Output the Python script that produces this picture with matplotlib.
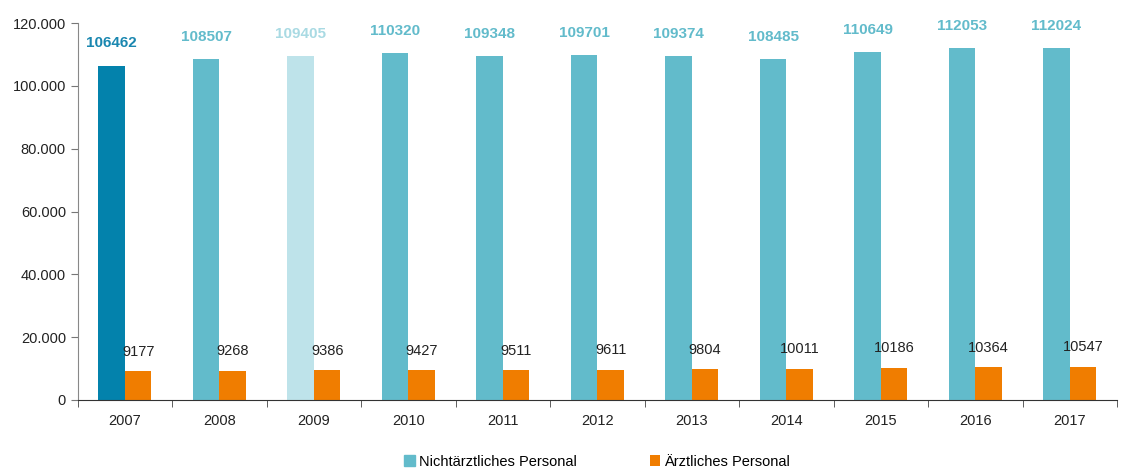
import matplotlib
matplotlib.use('Agg')
import matplotlib.pyplot as plt
from matplotlib.ticker import FuncFormatter
import numpy as np

years = ["2007", "2008", "2009", "2010", "2011", "2012", "2013", "2014", "2015", "2016", "2017"]
nicht_aerztlich = [106462, 108507, 109405, 110320, 109348, 109701, 109374, 108485, 110649, 112053, 112024]
aerztlich = [9177, 9268, 9386, 9427, 9511, 9611, 9804, 10011, 10186, 10364, 10547]

teal = "#62BBCB"
dark_blue = "#0382AC"
light_teal = "#BEE3EA"
orange = "#F07D00"
label_blue = ["#1A87B0", teal, "#A9DAE3"] + [teal] * 8
bar_blue = [dark_blue, teal, light_teal] + [teal] * 8

plt.rcParams['font.family'] = ['Liberation Sans', 'DejaVu Sans']

fig = plt.figure(figsize=(11.26, 4.70), dpi=100)
ax = fig.add_axes([0.069, 0.149, 0.923, 0.802])

x = np.arange(len(years))
w = 0.28
ax.bar(x - w / 2, nicht_aerztlich, w, color=bar_blue, edgecolor='none', label="Nichtärztliches Personal")
ax.bar(x + w / 2, aerztlich, w, color=orange, edgecolor='none', label="Ärztliches Personal")

for i in range(len(years)):
    ax.annotate(str(nicht_aerztlich[i]), (x[i] - w / 2, nicht_aerztlich[i]), xytext=(0, 11),
                textcoords='offset points', ha='center', va='bottom', fontsize=11,
                fontweight='bold', color=label_blue[i])
    ax.annotate(str(aerztlich[i]), (x[i] + w / 2, aerztlich[i]), xytext=(0, 9),
                textcoords='offset points', ha='center', va='bottom', fontsize=10.5, color='#222222')

ax.set_xlim(-0.5, len(years) - 0.5)
ax.set_ylim(0, 120000)
ax.set_yticks(np.arange(0, 120001, 20000))
ax.yaxis.set_major_formatter(FuncFormatter(lambda v, p: f"{int(v):,}".replace(",", ".")))
ax.set_xticks(x)
ax.set_xticklabels(years)
ax.set_xticks(np.arange(-0.5, len(years)), minor=True)
ax.tick_params(axis='x', which='major', length=0, pad=10, labelsize=10.5, colors='#222222')
ax.tick_params(axis='x', which='minor', length=5, color='#444444')
ax.tick_params(axis='y', length=5, color='#777777', labelsize=10.5, labelcolor='#222222')

for s in ['top', 'right']:
    ax.spines[s].set_visible(False)
ax.spines['left'].set_color('#888888')
ax.spines['bottom'].set_color('#333333')

ax.legend(loc='upper center', bbox_to_anchor=(0.5, -0.122), ncol=2, frameon=False,
          fontsize=10.5, handlelength=0.7, handleheight=0.7, handletextpad=0.3, columnspacing=5,
          borderaxespad=0.2)
leg = ax.get_legend()
leg.legend_handles[0].set_color(teal)

plt.savefig("out.png", dpi=100)
